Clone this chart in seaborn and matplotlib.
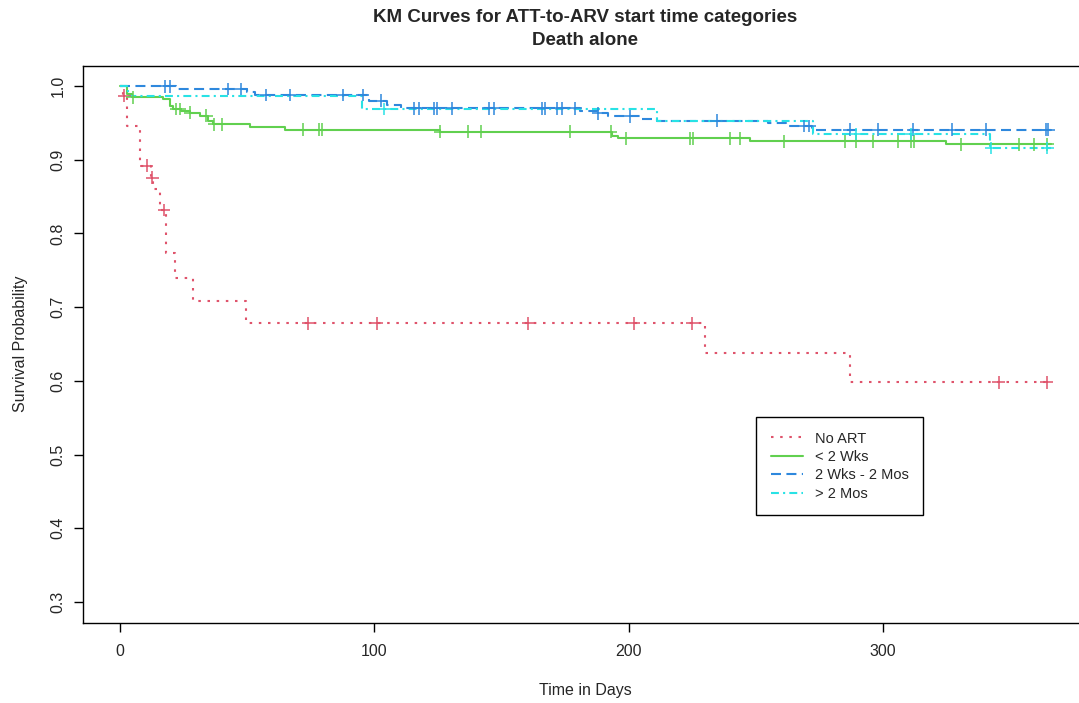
import numpy as np
import pandas as pd
import matplotlib
matplotlib.use("Agg")
import matplotlib.pyplot as plt
import seaborn as sns

sns.set_style("ticks")
plt.rcParams['font.family'] = ['Liberation Sans', 'DejaVu Sans']

# --- KM step data (time in days, survival) ---
groups = ["No ART", "< 2 Wks", "2 Wks - 2 Mos", "> 2 Mos"]

noart_t = [0, 1, 2.6, 8, 12, 13, 15.7, 18, 21.6, 28.7, 49.4, 230, 287, 366]
noart_s = [1.0, 0.987, 0.946, 0.892, 0.876, 0.861, 0.832, 0.773, 0.739, 0.708, 0.678, 0.638, 0.598, 0.598]
noart_cens = [1.7, 10.5, 12.7, 17.3, 74, 101, 160.5, 202, 225, 345.6, 364.4]

early_t = [0, 2.6, 4.7, 17, 19.6, 21, 24, 27.5, 31.4, 34.5, 36.5, 51, 64.7, 126, 193.5, 196, 247.7, 325, 366]
early_s = [1.0, 0.989, 0.985, 0.982, 0.973, 0.969, 0.966, 0.964, 0.960, 0.953, 0.948, 0.945, 0.941, 0.938,
           0.933, 0.929, 0.925, 0.921, 0.921]
early_cens = [5, 22, 23.5, 27.5, 34, 37, 40, 72, 78.4, 79.6, 126, 137, 142, 177, 193, 199, 224, 225.5,
              240, 244, 261, 285, 289.5, 296, 306, 311, 312.4, 330.7, 353.6, 359.5, 364.7]

mid_t = [0, 22, 50, 53, 98, 105, 110.5, 181, 188, 192, 205, 211, 255, 262, 272, 366]
mid_s = [1.0, 0.996, 0.992, 0.988, 0.980, 0.975, 0.970, 0.966, 0.963, 0.959, 0.955, 0.953, 0.950, 0.946,
         0.941, 0.941]
mid_cens = [17.6, 19.6, 42.5, 47.7, 57.5, 66.7, 87.6, 95.4, 102.6, 115.7, 117.6, 123.5, 124.7, 130.7,
            145, 147, 166, 167, 172, 174, 179, 188, 200.6, 234.6, 269, 271, 287, 298, 312, 327, 340.5,
            364, 365]

late_t = [0, 3, 95, 211, 272.5, 342, 366]
late_s = [1.0, 0.986, 0.969, 0.953, 0.935, 0.916, 0.916]
late_cens = [104, 289.5, 311, 342.5, 364.7]

colors = {"No ART": "#DF536B", "< 2 Wks": "#61D04F", "2 Wks - 2 Mos": "#2E88DD", "> 2 Mos": "#28E2E5"}
dash_map = {"No ART": (1.2, 3.2), "< 2 Wks": "", "2 Wks - 2 Mos": (4.8, 2.6), "> 2 Mos": (3.8, 2, 1, 2)}

curves = {
    "No ART": (noart_t, noart_s, noart_cens),
    "< 2 Wks": (early_t, early_s, early_cens),
    "2 Wks - 2 Mos": (mid_t, mid_s, mid_cens),
    "> 2 Mos": (late_t, late_s, late_cens),
}

rows, cens_rows = [], []
for g in groups:
    t, s, c = curves[g]
    for ti, si in zip(t, s):
        rows.append({"Time": ti, "Survival": si, "Group": g})
    t_arr, s_arr = np.array(t), np.array(s)
    for ci in c:
        idx = np.searchsorted(t_arr, ci, side="right") - 1
        cens_rows.append({"Time": ci, "Survival": s_arr[idx], "Group": g})

df = pd.DataFrame(rows)
df_cens = pd.DataFrame(cens_rows)

fig = plt.figure(figsize=(10.79, 7.03), dpi=100)
ax = fig.add_axes([0.0767, 0.1145, 0.9316, 0.7923])

sns.lineplot(data=df, x="Time", y="Survival", hue="Group", style="Group",
             hue_order=groups, style_order=groups, palette=colors, dashes=dash_map,
             estimator=None, sort=False, drawstyle="steps-post", linewidth=1.5,
             legend=False, ax=ax)
handles = list(ax.lines[:4])

# censoring ticks
sns.scatterplot(data=df_cens, x="Time", y="Survival", hue="Group", hue_order=groups,
                palette=colors, marker="+", s=85, linewidth=1.1, legend=False, ax=ax, zorder=3)

ax.set_xlim(-14.64, 380.64)
ax.set_ylim(0.272, 1.028)
ax.set_xticks([0, 100, 200, 300])
ax.set_yticks([0.3, 0.4, 0.5, 0.6, 0.7, 0.8, 0.9, 1.0])
ax.set_yticklabels(["0.3", "0.4", "0.5", "0.6", "0.7", "0.8", "0.9", "1.0"], rotation=90, va="center")
ax.tick_params(axis="both", length=6.5, width=1, labelsize=11.5, color="black")
ax.tick_params(axis="x", pad=9)
ax.tick_params(axis="y", pad=6)
for sp in ax.spines.values():
    sp.set_color("black")
    sp.set_linewidth(1.0)

ax.set_xlabel("")
ax.set_ylabel("Survival Probability", fontsize=11.5, labelpad=16)
fig.text(585 / 1079, 1 - 690 / 703, "Time in Days", ha="center", va="center", fontsize=11.5)
fig.text(585 / 1079, 1 - 29 / 703, "KM Curves for ATT-to-ARV start time categories\nDeath alone",
         ha="center", va="center", fontsize=13.5, fontweight="bold", linespacing=1.4)

leg = ax.legend(handles, groups, loc="upper left", bbox_to_anchor=(0.670, 0.369),
                frameon=True, fancybox=False, edgecolor="black", framealpha=1,
                fontsize=10.5, handlelength=2.2, handletextpad=0.8, labelspacing=0.3,
                borderpad=1.0, borderaxespad=0)
leg.get_frame().set_linewidth(1.0)

fig.savefig("out.png", dpi=100)
